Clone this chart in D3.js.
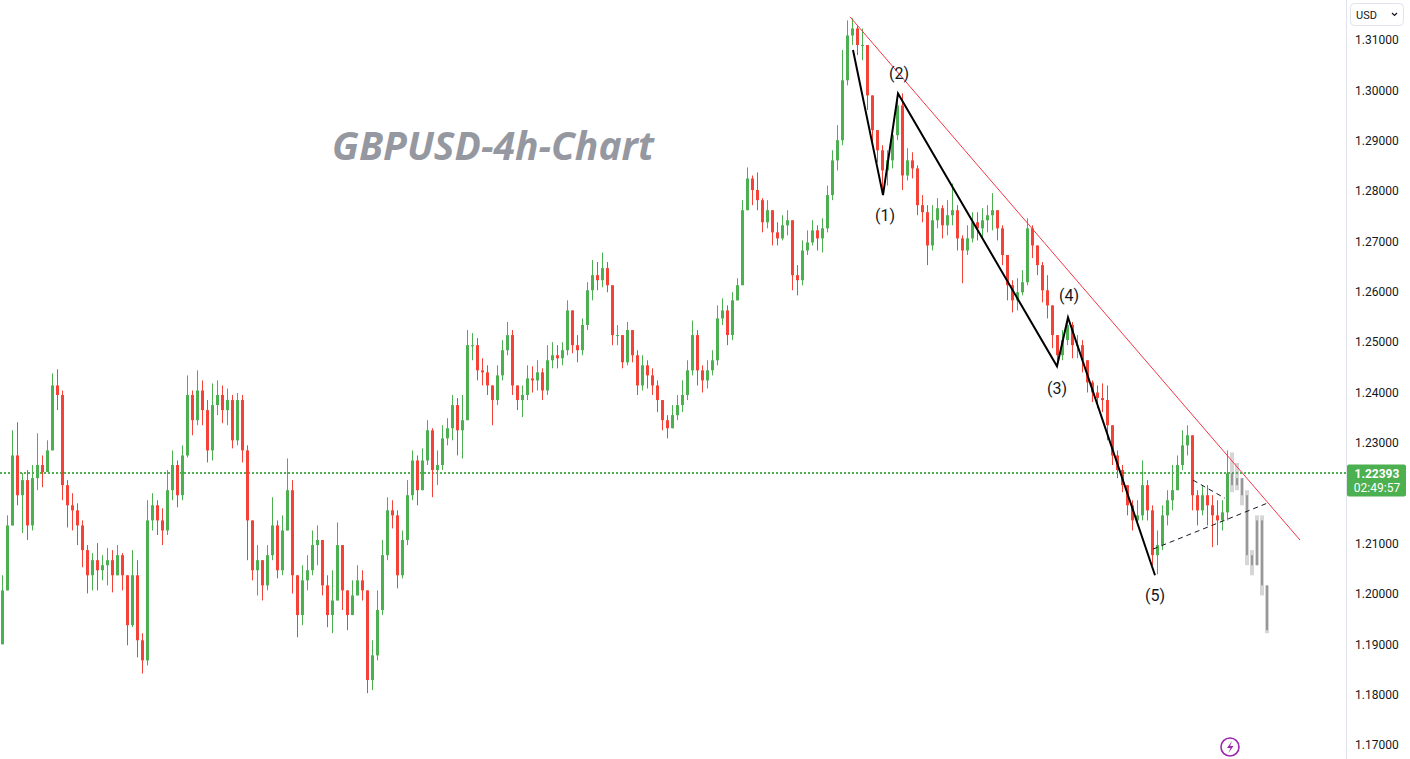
<!DOCTYPE html>
<html>
<head>
<meta charset="utf-8">
<script src="https://cdn.jsdelivr.net/npm/d3@7"></script>
<style>
  body { margin: 0; background: #fff; }
  svg { display: block; font-family: Roboto, "Liberation Sans", sans-serif; }
</style>
</head>
<body>
<div id="chart"></div>
<script>
// GBPUSD 4h candles (open = previous close)
const firstOpen = 1.1900;
const closes = [
  1.2007,1.2136,1.2275,1.2196,1.2226,1.2136,1.2230,1.2256,1.2242,1.2285,
  1.2414,1.2395,1.2216,1.2176,1.2166,1.2136,1.2087,1.2037,1.2067,1.2047,
  1.2057,1.2067,1.2037,1.2077,1.2037,1.1938,1.2037,1.1908,1.1868,1.2146,
  1.2176,1.2146,1.2126,1.2206,1.2256,1.2196,1.2275,1.2395,1.2345,1.2404,
  1.2365,1.2285,1.2375,1.2395,1.2365,1.2385,1.2305,1.2385,1.2285,1.2146,
  1.2047,1.2067,1.2017,1.2077,1.2136,1.2047,1.2126,1.2206,1.2037,1.1958,
  1.2027,1.2047,1.2097,1.2107,1.2017,1.1958,1.1987,1.2097,1.2007,1.1958,
  1.1997,1.2027,1.2007,1.1829,1.1878,1.1968,1.2077,1.2166,1.2156,1.2037,
  1.2107,1.2196,1.2265,1.2206,1.2265,1.2325,1.2246,1.2256,1.2309,1.2329,
  1.2375,1.2325,1.2345,1.2494,1.2494,1.2444,1.2440,1.2414,1.2385,1.2434,
  1.2484,1.2514,1.2414,1.2385,1.2395,1.2428,1.2424,1.2440,1.2404,1.2464,
  1.2474,1.2468,1.2484,1.2563,1.2494,1.2484,1.2534,1.2603,1.2633,1.2623,
  1.2647,1.2613,1.2514,1.2514,1.2460,1.2524,1.2474,1.2414,1.2454,1.2434,
  1.2414,1.2385,1.2345,1.2329,1.2355,1.2375,1.2395,1.2444,1.2514,1.2444,
  1.2424,1.2444,1.2464,1.2547,1.2563,1.2514,1.2583,1.2613,1.2762,1.2825,
  1.2802,1.2782,1.2738,1.2762,1.2718,1.2706,1.2732,1.2742,1.2633,1.2623,
  1.2682,1.2698,1.2722,1.2706,1.2726,1.2792,1.2861,1.2901,1.3020,1.3109,
  1.3123,1.3090,1.3090,1.2990,1.2921,1.2881,1.2841,1.2861,1.2911,1.2970,
  1.2831,1.2861,1.2845,1.2772,1.2758,1.2692,1.2742,1.2766,1.2732,1.2752,
  1.2762,1.2706,1.2682,1.2706,1.2738,1.2726,1.2742,1.2752,1.2762,1.2726,
  1.2673,1.2613,1.2583,1.2599,1.2619,1.2726,1.2692,1.2653,1.2603,1.2573,
  1.2514,1.2474,1.2504,1.2534,1.2494,1.2494,1.2464,1.2420,1.2400,1.2389,
  1.2385,1.2335,1.2275,1.2246,1.2216,1.2176,1.2146,1.2156,1.2216,1.2166,
  1.2077,1.2097,1.2156,1.2186,1.2206,1.2256,1.2295,1.2315,1.2196,1.2166,
  1.2196,1.2176,1.2156,1.2146,1.2162,1.22393
];
const highs = [
  1.2037,1.2156,1.2325,1.2341,1.2240,1.2246,1.2256,1.2319,1.2275,1.2305,
  1.2438,1.2446,1.2404,1.2226,1.2200,1.2180,1.2146,1.2097,1.2081,1.2101,
  1.2077,1.2091,1.2087,1.2097,1.2081,1.2017,1.2087,1.2067,1.1922,1.2186,
  1.2200,1.2186,1.2170,1.2246,1.2285,1.2265,1.2295,1.2434,1.2404,1.2444,
  1.2424,1.2385,1.2418,1.2424,1.2414,1.2408,1.2395,1.2399,1.2395,1.2295,
  1.2107,1.2097,1.2067,1.2097,1.2192,1.2146,1.2156,1.2269,1.2226,1.2037,
  1.2057,1.2077,1.2126,1.2136,1.2097,1.2037,1.2047,1.2142,1.2097,1.2007,
  1.2027,1.2057,1.2047,1.2007,1.1908,1.2007,1.2107,1.2192,1.2186,1.2166,
  1.2126,1.2226,1.2285,1.2275,1.2289,1.2345,1.2329,1.2285,1.2335,1.2349,
  1.2395,1.2389,1.2395,1.2524,1.2518,1.2508,1.2468,1.2454,1.2414,1.2454,
  1.2504,1.2540,1.2524,1.2414,1.2414,1.2454,1.2452,1.2464,1.2448,1.2494,
  1.2500,1.2494,1.2500,1.2583,1.2563,1.2514,1.2547,1.2619,1.2663,1.2659,
  1.2678,1.2659,1.2613,1.2534,1.2514,1.2540,1.2524,1.2484,1.2474,1.2464,
  1.2448,1.2424,1.2385,1.2355,1.2375,1.2395,1.2424,1.2464,1.2543,1.2524,
  1.2454,1.2464,1.2484,1.2573,1.2587,1.2573,1.2599,1.2627,1.2782,1.2847,
  1.2831,1.2837,1.2786,1.2782,1.2752,1.2738,1.2752,1.2762,1.2732,1.2653,
  1.2702,1.2722,1.2742,1.2732,1.2746,1.2811,1.2881,1.2931,1.3080,1.3139,
  1.3143,1.3129,1.3123,1.3090,1.2980,1.2921,1.2891,1.2881,1.2921,1.2990,
  1.2994,1.2885,1.2877,1.2851,1.2792,1.2772,1.2772,1.2786,1.2772,1.2782,
  1.2815,1.2772,1.2712,1.2732,1.2758,1.2758,1.2766,1.2772,1.2796,1.2762,
  1.2732,1.2673,1.2623,1.2627,1.2643,1.2746,1.2732,1.2692,1.2659,1.2633,
  1.2573,1.2514,1.2524,1.2549,1.2540,1.2514,1.2504,1.2464,1.2424,1.2414,
  1.2418,1.2414,1.2335,1.2285,1.2256,1.2216,1.2186,1.2186,1.2265,1.2226,
  1.2176,1.2126,1.2176,1.2206,1.2256,1.2275,1.2325,1.2335,1.2315,1.2206,
  1.2216,1.2216,1.2196,1.2186,1.2186,1.2285
];
const lows = [
  1.1902,1.2027,1.2206,1.2176,1.2121,1.2107,1.2126,1.2206,1.2212,1.2246,
  1.2295,1.2365,1.2186,1.2132,1.2126,1.2097,1.2053,1.2001,1.2007,1.2007,
  1.2027,1.2017,1.2003,1.2037,1.2007,1.1898,1.1934,1.1874,1.1842,1.1858,
  1.2126,1.2117,1.2097,1.2117,1.2186,1.2172,1.2186,1.2271,1.2315,1.2335,
  1.2335,1.2261,1.2265,1.2355,1.2339,1.2335,1.2289,1.2295,1.2261,1.2067,
  1.2027,1.1997,1.1987,1.2007,1.2067,1.2031,1.2037,1.2126,1.2001,1.1914,
  1.1938,1.2007,1.2037,1.2057,1.1997,1.1934,1.1922,1.1987,1.1968,1.1928,
  1.1958,1.1997,1.1987,1.1803,1.1809,1.1868,1.1958,1.2067,1.2130,1.2011,
  1.2031,1.2097,1.2186,1.2176,1.2206,1.2256,1.2192,1.2216,1.2246,1.2295,
  1.2305,1.2275,1.2269,1.2375,1.2464,1.2424,1.2414,1.2395,1.2335,1.2375,
  1.2424,1.2474,1.2395,1.2365,1.2351,1.2385,1.2400,1.2404,1.2385,1.2395,
  1.2448,1.2448,1.2454,1.2474,1.2478,1.2460,1.2474,1.2524,1.2583,1.2603,
  1.2609,1.2599,1.2494,1.2494,1.2448,1.2454,1.2460,1.2395,1.2404,1.2408,
  1.2395,1.2361,1.2325,1.2309,1.2329,1.2345,1.2361,1.2385,1.2434,1.2414,
  1.2400,1.2408,1.2434,1.2454,1.2534,1.2494,1.2504,1.2583,1.2613,1.2762,
  1.2772,1.2762,1.2718,1.2726,1.2692,1.2692,1.2702,1.2712,1.2603,1.2593,
  1.2613,1.2673,1.2692,1.2682,1.2678,1.2718,1.2782,1.2841,1.2891,1.3010,
  1.3090,1.3070,1.3060,1.2961,1.2897,1.2857,1.2798,1.2811,1.2845,1.2901,
  1.2802,1.2821,1.2825,1.2752,1.2738,1.2653,1.2682,1.2726,1.2706,1.2712,
  1.2732,1.2682,1.2617,1.2673,1.2698,1.2702,1.2706,1.2718,1.2722,1.2702,
  1.2653,1.2583,1.2559,1.2563,1.2593,1.2613,1.2667,1.2633,1.2579,1.2547,
  1.2488,1.2452,1.2464,1.2494,1.2468,1.2468,1.2440,1.2400,1.2381,1.2369,
  1.2361,1.2305,1.2256,1.2230,1.2202,1.2156,1.2126,1.2136,1.2146,1.2146,
  1.2057,1.2039,1.2087,1.2136,1.2166,1.2206,1.2246,1.2275,1.2166,1.2136,
  1.2156,1.2136,1.2093,1.2097,1.2126,1.2146
];

// grey projected path drawn after the last candle
const ghostCloses = [1.2216,1.2230,1.2196,1.2077,1.2057,1.2146,1.2017,1.1928];
const ghostHighs  = [1.2281,1.2260,1.2226,1.2206,1.2087,1.2156,1.2156,1.1997];
const ghostLows   = [1.2202,1.2206,1.2176,1.2057,1.2037,1.2067,1.1997,1.1922];

// elliott wave pivots (candle index, price) and labels
const waveIdx   = [170.2, 176.2, 179.2, 211.0, 213.2, 230.6];
const wavePrice = [1.3080, 1.2792, 1.2994, 1.2452, 1.2549, 1.2037];
const waveLabels = ['(1)', '(2)', '(3)', '(4)', '(5)'];
const waveLabelIdx   = [176.6, 179.4, 211.0, 213.4, 230.6];
const waveLabelPrice = [1.2752, 1.3034, 1.2408, 1.2592, 1.1997];

// trend line and triangle (index, price)
const trendIdx = [169.6, 259.6];
const trendPrice = [1.3146, 1.2107];
const triLowIdx = [230.2, 253.0];
const triLowPrice = [1.2089, 1.2180];
const triUpIdx = [238.2, 244.6];
const triUpPrice = [1.2226, 1.2190];

const lastPrice = 1.22393;
const countdown = '02:49:57';
const yTicks = [1.17,1.18,1.19,1.20,1.21,1.22,1.23,1.24,1.25,1.26,1.27,1.28,1.29,1.30,1.31];

const W = 1410, H = 759;
const axisX = 1346;
const up = '#4caf50', down = '#f44336';

const svg = d3.select('#chart').append('svg')
  .attr('width', W).attr('height', H);
svg.append('rect').attr('width', W).attr('height', H).attr('fill', '#fff');

const x = d3.scaleLinear().domain([0, 245]).range([2, 1227]);
const y = d3.scaleLinear().domain([1.17, 1.31]).range([745, 40]);

// build candle table
const candles = closes.map((c, i) => ({
  i: i,
  o: i === 0 ? firstOpen : closes[i - 1],
  c: c, h: highs[i], l: lows[i]
}));
const ghosts = ghostCloses.map((c, k) => ({
  i: 246 + k,
  o: k === 0 ? closes[closes.length - 1] : ghostCloses[k - 1],
  c: c, h: ghostHighs[k], l: ghostLows[k]
}));

const plot = svg.append('g');
const ty = y(lastPrice);

// last price dotted line
plot.append('line')
  .attr('x1', 0).attr('x2', axisX)
  .attr('y1', Math.round(ty)).attr('y2', Math.round(ty))
  .attr('stroke', up).attr('stroke-width', 2).attr('stroke-dasharray', '2,2')
  .attr('shape-rendering', 'crispEdges');

// candles
const cg = plot.append('g');
cg.selectAll('line.wick').data(candles).enter().append('line')
  .attr('class', 'wick')
  .attr('x1', d => Math.round(x(d.i)) + 0.5).attr('x2', d => Math.round(x(d.i)) + 0.5)
  .attr('y1', d => y(Math.max(d.h, d.o, d.c))).attr('y2', d => y(Math.min(d.l, d.o, d.c)))
  .attr('stroke', d => d.c >= d.o ? up : down).attr('stroke-width', 1);
cg.selectAll('rect.body').data(candles).enter().append('rect')
  .attr('class', 'body')
  .attr('x', d => Math.round(x(d.i)) - 1).attr('width', 3)
  .attr('y', d => y(Math.max(d.o, d.c)))
  .attr('height', d => Math.max(1, Math.abs(y(d.o) - y(d.c))))
  .attr('fill', d => d.c >= d.o ? up : down);

// ghost projection
const gg = plot.append('g');
gg.selectAll('rect.gw').data(ghosts).enter().append('rect')
  .attr('x', d => Math.round(x(d.i)) - 2).attr('width', 4)
  .attr('y', d => y(Math.max(d.h, d.o, d.c)))
  .attr('height', d => y(Math.min(d.l, d.o, d.c)) - y(Math.max(d.h, d.o, d.c)))
  .attr('fill', 'rgba(120,120,120,0.3)');
gg.selectAll('rect.gb').data(ghosts).enter().append('rect')
  .attr('x', d => Math.round(x(d.i)) - 1).attr('width', 2)
  .attr('y', d => y(Math.max(d.o, d.c)))
  .attr('height', d => Math.max(2, Math.abs(y(d.o) - y(d.c))))
  .attr('fill', 'rgba(60,60,60,0.4)');

// red trend line
plot.append('line')
  .attr('x1', x(trendIdx[0])).attr('y1', y(trendPrice[0]))
  .attr('x2', x(trendIdx[1])).attr('y2', y(trendPrice[1]))
  .attr('stroke', '#f23645').attr('stroke-width', 1);

// triangle dashed lines
[[triLowIdx, triLowPrice], [triUpIdx, triUpPrice]].forEach(([ix, pr]) => {
  plot.append('line')
    .attr('x1', x(ix[0])).attr('y1', y(pr[0]))
    .attr('x2', x(ix[1])).attr('y2', y(pr[1]))
    .attr('stroke', '#131722').attr('stroke-width', 1).attr('stroke-dasharray', '5,4');
});

// wave path
const wave = d3.line().x(d => x(d[0])).y(d => y(d[1]));
plot.append('path')
  .attr('d', wave(waveIdx.map((v, i) => [v, wavePrice[i]])))
  .attr('fill', 'none').attr('stroke', '#000').attr('stroke-width', 2)
  .attr('stroke-linejoin', 'miter');

plot.selectAll('text.wl').data(waveLabels).enter().append('text')
  .attr('x', (d, i) => x(waveLabelIdx[i]))
  .attr('y', (d, i) => y(waveLabelPrice[i]))
  .attr('text-anchor', 'middle').attr('dominant-baseline', 'central')
  .attr('font-size', 16).attr('fill', '#131722')
  .text(d => d);

// title
svg.append('text')
  .attr('x', 332).attr('y', 160)
  .attr('font-family', '"Open Sans", sans-serif')
  .attr('font-weight', 700).attr('font-style', 'italic')
  .attr('font-size', 39).attr('fill', '#9598a1')
  .text('GBPUSD-4h-Chart');

// price axis (the tick hidden behind the price tag is left out)
svg.append('line')
  .attr('x1', axisX + 0.5).attr('x2', axisX + 0.5).attr('y1', 0).attr('y2', H)
  .attr('stroke', '#e0e3eb');
const yAxis = d3.axisRight(y)
  .tickValues(yTicks.filter(t => Math.abs(y(t) - (ty + 7)) > 20))
  .tickFormat(d3.format('.5f'))
  .tickSize(0).tickPadding(9);
const ag = svg.append('g').attr('transform', `translate(${axisX},0)`).call(yAxis);
ag.select('.domain').remove();
ag.selectAll('text').attr('font-size', 12).attr('fill', '#131722')
  .attr('font-family', 'Roboto, sans-serif');

// last price tag
svg.append('rect').attr('x', axisX + 1).attr('y', ty - 9).attr('width', 59).attr('height', 32)
  .attr('rx', 2).attr('fill', up);
svg.append('text').attr('x', axisX + 31).attr('y', ty + 5)
  .attr('text-anchor', 'middle').attr('font-size', 12).attr('font-weight', 700)
  .attr('fill', '#fff').text(d3.format('.5f')(lastPrice));
svg.append('text').attr('x', axisX + 31).attr('y', ty + 19)
  .attr('text-anchor', 'middle').attr('font-size', 12)
  .attr('fill', '#fff').text(countdown);

// currency selector
svg.append('rect').attr('x', 1350.5).attr('y', 3.5).attr('width', 53).attr('height', 22)
  .attr('rx', 4).attr('fill', '#fff').attr('stroke', '#e0e3eb');
svg.append('text').attr('x', 1356).attr('y', 19).attr('font-size', 11)
  .attr('fill', '#131722').text('USD');
svg.append('path').attr('d', 'M1392,13 l2.5,2.5 l2.5,-2.5')
  .attr('fill', 'none').attr('stroke', '#131722').attr('stroke-width', 1.2);

// lightning badge
svg.append('circle').attr('cx', 1230).attr('cy', 747).attr('r', 9)
  .attr('fill', '#fff').attr('stroke', '#9c27b0').attr('stroke-width', 1.6);
svg.append('path').attr('d', 'M1232,741 l-5,7 h3.5 l-2,5 l5,-7 h-3.5 z')
  .attr('fill', '#9c27b0');
</script>
</body>
</html>
